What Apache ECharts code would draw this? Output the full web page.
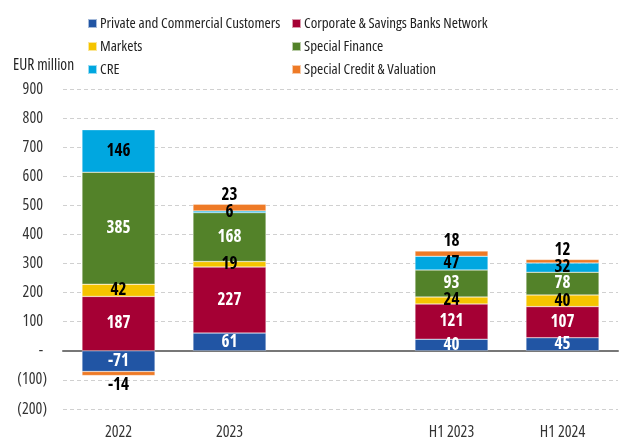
<!DOCTYPE html>
<html>
<head>
<meta charset="utf-8">
<script src="https://cdn.jsdelivr.net/npm/echarts@6/dist/echarts.min.js"></script>
<style>
  html, body { margin: 0; padding: 0; background: #fff; }
  #plot { width: 622px; height: 441px; }
</style>
</head>
<body>
<div id="plot"></div>
<script>
// canvas font shorthand accepts a stretch keyword, so it goes in fontStyle
var FONT = "'Open Sans', sans-serif";
var STRETCH = 'condensed';

var categories = ['2022', '2023', '', 'H1 2023', 'H1 2024'];
var seriesNames = ['Private and Commercial Customers', 'Corporate & Savings Banks Network', 'Markets',
	'Special Finance', 'CRE', 'Special Credit & Valuation'];
var privateCommercial = [-71, 61, '-', 40, 45];
var corporateSavings = [187, 227, '-', 121, 107];
var markets = [42, 19, '-', 24, 40];
var specialFinance = [385, 168, '-', 93, 78];
var cre = [146, 6, '-', 47, 32];
var specialCredit = [-14, 23, '-', 18, 12];

var colors = ['#2155a4', '#a50034', '#f5c400', '#538229', '#00a7e0', '#ee7a26'];
var labelColors = ['#fff', '#fff', '#000', '#fff', '#000', '#000'];

function makeSeries (name, values, idx) {
	var data = values.map(function (v) {
		if (idx == 5 && v !== '-') {
			return { value: v, label: { position: v < 0 ? 'bottom' : 'top' } };
		}
		return v;
	});
	return {
		name: name,
		type: 'bar',
		stack: 'total',
		barWidth: 73,
		data: data,
		itemStyle: { color: colors[idx], borderColor: 'rgba(255,255,255,0.6)', borderWidth: 0.5 },
		label: {
			show: true,
			position: 'inside',
			color: labelColors[idx],
			fontFamily: FONT,
			fontStyle: STRETCH,
			fontSize: 17,
			fontWeight: 'bold',
			distance: 1
		}
	};
}

var allValues = [privateCommercial, corporateSavings, markets, specialFinance, cre, specialCredit];
var series = [];
for (var i = 0; i < seriesNames.length; i++) {
	series.push(makeSeries(seriesNames[i], allValues[i], i));
}

var legendText = { fontFamily: FONT, fontStyle: STRETCH, fontSize: 15, color: '#222', padding: [0, 0, 0, -2] };

var option = {
	animation: false,
	color: colors,
	textStyle: { fontFamily: FONT },
	title: {
		text: 'EUR million',
		left: 8,
		top: 53,
		textStyle: { fontFamily: FONT, fontStyle: STRETCH, fontSize: 15.5, fontWeight: 'normal', color: '#222' }
	},
	legend: [
		{
			data: [seriesNames[0], seriesNames[2], seriesNames[4]],
			orient: 'vertical',
			left: 87,
			top: 16,
			padding: 0,
			itemWidth: 9,
			itemHeight: 9,
			itemGap: 8,
			icon: 'rect',
			textStyle: legendText
		},
		{
			data: [seriesNames[1], seriesNames[3], seriesNames[5]],
			orient: 'vertical',
			left: 291,
			top: 16,
			padding: 0,
			itemWidth: 9,
			itemHeight: 9,
			itemGap: 8,
			icon: 'rect',
			textStyle: legendText
		}
	],
	grid: { left: 63, right: 4, top: 89, bottom: 32, containLabel: false },
	xAxis: {
		type: 'category',
		data: categories,
		axisTick: { show: false },
		axisLine: { show: true, onZero: true, lineStyle: { color: '#777', width: 2 } },
		axisLabel: { fontFamily: FONT, fontStyle: STRETCH, fontSize: 16, color: '#333', margin: 15 },
		position: 'bottom'
	},
	yAxis: {
		type: 'value',
		min: -200,
		max: 900,
		interval: 100,
		axisLine: { show: false },
		axisTick: { show: false },
		splitLine: { lineStyle: { color: '#d0d0d0', type: [4, 3] } },
		axisLabel: {
			fontFamily: FONT,
			fontStyle: STRETCH,
			fontSize: 16,
			color: '#333',
			margin: 16,
			formatter: function (v) {
				if (v === 0) return '{n|-}';
				if (v < 0) return '(' + Math.abs(v) + ')';
				return '{n|' + v + '}';
			},
			rich: {
				n: { fontFamily: FONT, fontStyle: STRETCH, fontSize: 16, color: '#333', padding: [0, 4, 0, 0] }
			}
		}
	},
	series: series
};

var myChart = echarts.init(document.getElementById('plot'));
myChart.setOption(option);
</script>
</body>
</html>
